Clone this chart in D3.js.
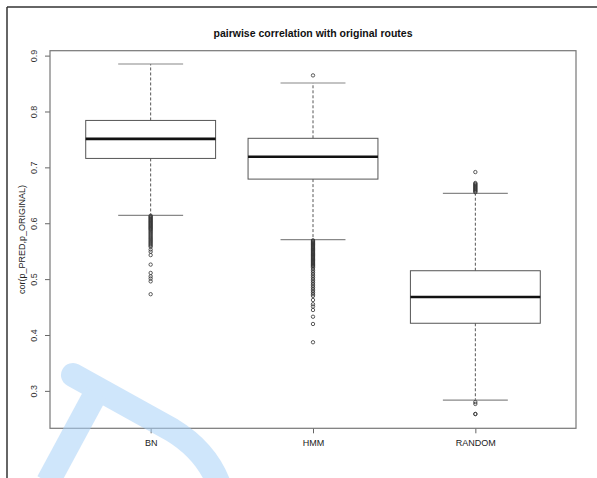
<!DOCTYPE html>
<html>
<head>
<meta charset="utf-8">
<script src="https://cdn.jsdelivr.net/npm/d3@7"></script>
<style>
  html, body { margin: 0; padding: 0; background: #fff; }
  svg { display: block; font-family: "Liberation Sans", Arial, sans-serif; }
</style>
</head>
<body>
<svg id="chart" width="597" height="478"></svg>
<script>
// Box statistics per method
const groups = ["BN", "HMM", "RANDOM"];
const lowerWhisker = [0.614, 0.5705, 0.2833];
const q1 = [0.716, 0.679, 0.421];
const medians = [0.751, 0.719, 0.468];
const q3 = [0.784, 0.752, 0.515];
const upperWhisker = [0.885, 0.851, 0.6535];

// Individual outlying correlations
const outliersBN = [
  0.6135, 0.612, 0.6105, 0.609, 0.6075, 0.606, 0.6045, 0.603, 0.6015, 0.6,
  0.5985, 0.597, 0.5955, 0.594, 0.5925, 0.591, 0.5895, 0.588, 0.586, 0.584,
  0.582, 0.58, 0.578, 0.576, 0.574, 0.572, 0.57, 0.568, 0.566, 0.564,
  0.562, 0.56, 0.558, 0.553, 0.549, 0.543, 0.526, 0.511, 0.505, 0.501,
  0.496, 0.473
];
const outliersHMM = [
  0.8646,
  0.5695, 0.568, 0.5665, 0.565, 0.5635, 0.562, 0.5605, 0.559, 0.5575, 0.556,
  0.5545, 0.553, 0.5515, 0.55, 0.5485, 0.547, 0.5455, 0.544, 0.5425, 0.541,
  0.5395, 0.538, 0.5365, 0.535, 0.5335, 0.532, 0.5305, 0.529, 0.5275, 0.526,
  0.5245, 0.523, 0.521, 0.518, 0.515, 0.512, 0.509, 0.506, 0.503, 0.5,
  0.497, 0.494, 0.491, 0.488, 0.485, 0.482, 0.479, 0.476, 0.473, 0.47,
  0.4626, 0.455, 0.451, 0.4447, 0.4327, 0.4197, 0.387
];
const outliersRANDOM = [
  0.6916, 0.672, 0.6705, 0.669, 0.6675, 0.666, 0.6645, 0.663, 0.6615, 0.66,
  0.6585, 0.657, 0.6555, 0.28, 0.2766, 0.2587, 0.2584
];
const outliers = [outliersBN, outliersHMM, outliersRANDOM];

const yTicks = [0.3, 0.4, 0.5, 0.6, 0.7, 0.8, 0.9];
const titleText = "pairwise correlation with original routes";
const yLabel = "cor(p_PRED,p_ORIGINAL)";

const svg = d3.select("#chart");
const plot = { left: 50, right: 576, top: 50.7, bottom: 428.3 };

const x = d3.scaleLinear().domain([0.38, 3.62]).range([plot.left, plot.right]);
const y = d3.scaleLinear().domain([0.233, 0.9088]).range([plot.bottom, plot.top]);
const boxHalf = 0.4, capHalf = 0.2;

// outer device frame
svg.append("line").attr("x1", 7).attr("x2", 597).attr("y1", 7).attr("y2", 7)
  .attr("stroke", "#333").attr("stroke-width", 1.5);
svg.append("line").attr("x1", 7).attr("x2", 7).attr("y1", 7).attr("y2", 478)
  .attr("stroke", "#333").attr("stroke-width", 1.5);

// title
svg.append("text")
  .attr("x", (plot.left + plot.right) / 2).attr("y", 37)
  .attr("text-anchor", "middle").attr("font-size", 10.5).attr("font-weight", "bold")
  .attr("fill", "#111").text(titleText);

// y axis label
svg.append("text")
  .attr("transform", `translate(25,${(plot.top + plot.bottom) / 2}) rotate(-90)`)
  .attr("text-anchor", "middle").attr("font-size", 9).attr("fill", "#222")
  .text(yLabel);

// y axis
const yAxis = svg.append("g").attr("transform", `translate(${plot.left},0)`)
  .call(d3.axisLeft(y).tickValues(yTicks).tickSize(5).tickPadding(6)
    .tickFormat(d3.format(".1f")));
yAxis.select(".domain").remove();
yAxis.selectAll(".tick line").attr("stroke", "#666");
yAxis.selectAll(".tick text")
  .attr("font-size", 9).attr("fill", "#333")
  .attr("font-family", "Liberation Sans, Arial, sans-serif")
  .attr("text-anchor", "middle").attr("dy", 0)
  .attr("transform", "translate(-13,0) rotate(-90)").attr("x", 0).attr("y", 0)
  .attr("dominant-baseline", "auto");

// x axis
const xAxis = svg.append("g").attr("transform", `translate(0,${plot.bottom})`)
  .call(d3.axisBottom(x).tickValues([1, 2, 3]).tickSize(5).tickPadding(6)
    .tickFormat((d, i) => groups[i]));
xAxis.select(".domain").remove();
xAxis.selectAll(".tick line").attr("stroke", "#666");
xAxis.selectAll(".tick text").attr("font-size", 9).attr("fill", "#222")
  .attr("font-family", "Liberation Sans, Arial, sans-serif");

// plot frame
svg.append("rect")
  .attr("x", plot.left).attr("y", plot.top)
  .attr("width", plot.right - plot.left).attr("height", plot.bottom - plot.top)
  .attr("fill", "none").attr("stroke", "#777").attr("stroke-width", 1.2);

// boxes
const boxes = svg.append("g");
groups.forEach((g, i) => {
  const c = i + 1;
  const gg = boxes.append("g");
  // whiskers (dashed)
  gg.append("line").attr("x1", x(c)).attr("x2", x(c))
    .attr("y1", y(q3[i])).attr("y2", y(upperWhisker[i]))
    .attr("stroke", "#444").attr("stroke-width", 0.9).attr("stroke-dasharray", "3,2");
  gg.append("line").attr("x1", x(c)).attr("x2", x(c))
    .attr("y1", y(q1[i])).attr("y2", y(lowerWhisker[i]))
    .attr("stroke", "#444").attr("stroke-width", 0.9).attr("stroke-dasharray", "3,2");
  // caps
  [upperWhisker[i], lowerWhisker[i]].forEach(v => {
    gg.append("line").attr("x1", x(c - capHalf)).attr("x2", x(c + capHalf))
      .attr("y1", y(v)).attr("y2", y(v))
      .attr("stroke", "#888").attr("stroke-width", 1.2);
  });
  // box
  gg.append("rect").attr("x", x(c - boxHalf)).attr("y", y(q3[i]))
    .attr("width", x(c + boxHalf) - x(c - boxHalf)).attr("height", y(q1[i]) - y(q3[i]))
    .attr("fill", "none").attr("stroke", "#555").attr("stroke-width", 1);
  // median
  gg.append("line").attr("x1", x(c - boxHalf)).attr("x2", x(c + boxHalf))
    .attr("y1", y(medians[i])).attr("y2", y(medians[i]))
    .attr("stroke", "#111").attr("stroke-width", 2.6);
  // outliers
  gg.selectAll("circle").data(outliers[i]).join("circle")
    .attr("cx", x(c)).attr("cy", d => y(d)).attr("r", 1.7)
    .attr("fill", "none").attr("stroke", "#333").attr("stroke-width", 0.8);
});

// light-blue watermark emblem
const mark = svg.append("g").attr("opacity", 0.55)
  .attr("fill", "none").attr("stroke", "#a9d2f8").attr("stroke-width", 24)
  .attr("stroke-linecap", "round");
mark.append("path").attr("d", "M73,375 L172,430 Q205,450 218,482");
mark.append("path").attr("d", "M96,393 L48,482").attr("stroke-linecap", "butt");
</script>
</body>
</html>
